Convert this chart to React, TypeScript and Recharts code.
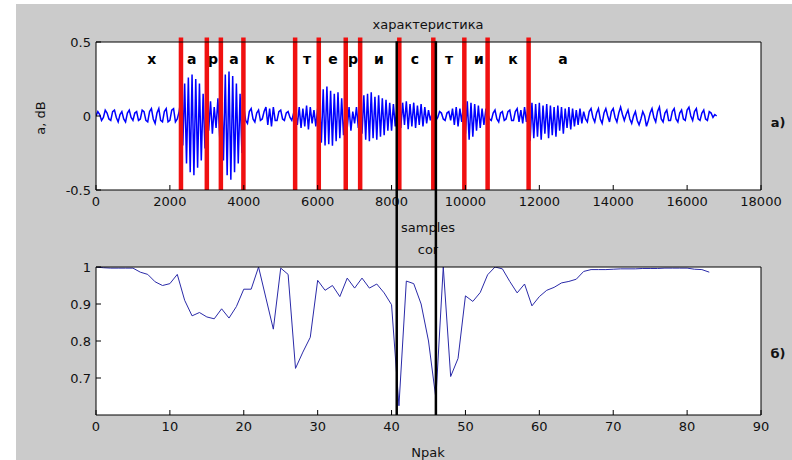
import React from 'react';
import {
  ComposedChart,
  LineChart,
  Line,
  Scatter,
  XAxis,
  YAxis,
  CartesianGrid,
  ReferenceLine,
} from 'recharts';

const W = 792;
const H = 460;
const STEP = 50; // samples between two points of the waveform

// waveform, one array per sound, values every STEP samples from its start
const segStarts = [0, 2300, 3000, 3400, 4000, 5400, 6050, 6750, 7150, 8200, 9150, 9950, 10600, 11700, 13200];
const segH = [0.0, 0.03, 0.01, -0.03, -0.01, 0.04, 0.02, -0.02, -0.03, 0.03, 0.04, -0.01, -0.04, 0.01, 0.03, -0.02, -0.04, 0.02, 0.04, -0.01, -0.03, 0.02, 0.03, -0.03, -0.02, 0.04, 0.03, -0.03, -0.04, 0.03, 0.05, -0.02, -0.05, 0.02, 0.05, -0.03, -0.04, 0.03, 0.05, -0.04, -0.03, 0.04, 0.05, -0.04, -0.02, 0.03];
const segA1 = [0.12, -0.2, 0.22, -0.32, 0.26, -0.38, 0.28, -0.4, 0.25, -0.35, 0.22, -0.3, 0.15, -0.22];
const segR1 = [0.08, -0.1, 0.1, -0.12, 0.06, -0.08, 0.12, -0.15];
const segA2 = [0.2, -0.3, 0.28, -0.4, 0.3, -0.43, 0.27, -0.38, 0.22, -0.32, 0.15, -0.25];
const segK1 = [0.06, -0.03, -0.05, 0.03, 0.05, -0.02, -0.04, 0.02, 0.04, -0.03, -0.02, 0.03, 0.06, -0.06, 0.05, -0.07, 0.06, -0.03, -0.03, 0.03, 0.04, -0.02, -0.03, 0.02, 0.03, -0.01, -0.03, 0.02];
const segT1 = [0.03, -0.06, 0.06, -0.08, 0.05, -0.07, 0.07, -0.09, 0.06, -0.05, 0.04, -0.07, 0.05];
const segE = [0.12, -0.18, 0.18, -0.2, 0.2, -0.19, 0.17, -0.2, 0.15, -0.17, 0.16, -0.15, 0.12, -0.13];
const segR2 = [0.04, -0.08, 0.06, -0.1, 0.03, -0.05, 0.06, -0.08];
const segI1 = [0.1, -0.12, 0.14, -0.16, 0.15, -0.17, 0.16, -0.15, 0.13, -0.16, 0.14, -0.14, 0.12, -0.13, 0.11, -0.1, 0.09, -0.1, 0.08, -0.07, 0.06];
const segS = [0.07, -0.08, 0.09, -0.06, 0.1, -0.09, 0.08, -0.07, 0.09, -0.08, 0.07, -0.06, 0.08, -0.07, 0.06, -0.05, 0.04, -0.03, 0.02];
const segT2 = [0.02, -0.03, -0.01, 0.03, 0.02, -0.02, -0.03, 0.02, 0.03, -0.03, 0.05, -0.06, 0.06, -0.07, 0.05, -0.04];
const segI2 = [0.08, -0.12, 0.1, -0.16, 0.09, -0.14, 0.08, -0.1, 0.07, -0.08, 0.05, -0.06, 0.04];
const segK2 = [0.02, -0.02, -0.03, 0.02, 0.04, -0.02, -0.04, 0.02, 0.03, -0.03, -0.02, 0.03, 0.04, -0.03, -0.03, 0.03, 0.05, -0.04, 0.04, -0.05, 0.06, -0.04];
const segA3 = [0.08, -0.17, 0.09, -0.15, 0.08, -0.14, 0.09, -0.16, 0.07, -0.12, 0.08, -0.15, 0.07, -0.13, 0.06, -0.14, 0.07, -0.1, 0.06, -0.12, 0.05, -0.08, 0.06, -0.09, 0.05, -0.07, 0.04, -0.06, 0.05, -0.05];
const segTail = [0.03, -0.02, -0.04, 0.03, 0.05, -0.01, -0.04, 0.02, 0.05, -0.02, -0.05, 0.02, 0.05, 0.0, -0.04, 0.03, 0.05, -0.01, -0.04, 0.02, 0.06, 0.01, -0.03, 0.01, 0.04, -0.02, -0.05, 0.0, 0.03, -0.03, -0.06, -0.02, 0.03, 0.0, -0.07, -0.03, 0.02, 0.05, -0.01, -0.04, 0.03, 0.06, -0.02, -0.04, 0.02, 0.04, -0.03, -0.03, 0.03, 0.05, -0.02, -0.04, 0.02, 0.04, -0.02, -0.03, 0.04, 0.06, 0.0, -0.03, 0.03, 0.05, -0.02, -0.03, 0.02, 0.04, -0.02, -0.03, 0.03, 0.02, -0.01, 0.01, 0.0];
const segments = [segH, segA1, segR1, segA2, segK1, segT1, segE, segR2, segI1, segS, segT2, segI2, segK2, segA3, segTail];

// red boundaries between sounds (samples)
const bounds = [2300, 3000, 3380, 3990, 5390, 6030, 6760, 7150, 8210, 9130, 9970, 10600, 11710];

// letter labels above the waveform
const letters = ['х', 'а', 'р', 'а', 'к', 'т', 'е', 'р', 'и', 'с', 'т', 'и', 'к', 'а'];
const letterPos = [1510, 2590, 3170, 3735, 4710, 5710, 6415, 6955, 7660, 8635, 9555, 10365, 11285, 12640];
const letterLevel = 0.385;

// correlation per packet
const corValues = [
  1.0, 0.998, 0.997, 0.997, 0.997, 0.997, 0.986, 0.98, 0.96, 0.95,
  0.955, 0.98, 0.91, 0.868, 0.877, 0.865, 0.86, 0.887, 0.862, 0.893,
  0.94, 0.94, 1.0, 0.916, 0.832, 0.997, 0.98, 0.726, 0.77, 0.81,
  0.964, 0.937, 0.95, 0.92, 0.97, 0.943, 0.97, 0.943, 0.954, 0.93,
  0.898, 0.625, 0.962, 0.955, 0.9, 0.8, 0.645, 1.0, 0.704, 0.753,
  0.922, 0.907, 0.931, 0.979, 1.0, 0.995, 0.961, 0.93, 0.954, 0.895,
  0.92, 0.937, 0.945, 0.957, 0.961, 0.967, 0.988, 0.993, 0.993, 0.993,
  0.994, 0.995, 0.995, 0.995, 0.996, 0.996, 0.996, 0.997, 0.997, 0.997,
  0.997, 0.994, 0.993, 0.986,
];
const cutPackets = [40.7, 46.0];
const cutTop = 1.61; // reaches the top of the upper plot

const sampleTicks = [0, 2000, 4000, 6000, 8000, 10000, 12000, 14000, 16000, 18000];
const ampTicks = [-0.5, 0, 0.5];
const packetTicks = [0, 10, 20, 30, 40, 50, 60, 70, 80, 90];
const corTicks = [0.7, 0.8, 0.9, 1];

const wave = segments.flatMap((seg, k) => seg.map((a, i) => ({ s: segStarts[k] + i * STEP, a })));
const letterData = letters.map((ch, i) => ({ s: letterPos[i], y: letterLevel, ch }));
const corData = corValues.map((c, i) => ({ n: i, c }));

const FONT = 'DejaVu Sans';
const tickStyle = { fill: '#111', fontSize: 13, fontFamily: FONT };

const LetterShape = (p: any) => (
  <text
    x={p.cx}
    y={p.cy}
    textAnchor="middle"
    dominantBaseline="central"
    fontFamily={FONT}
    fontWeight="bold"
    fontSize={14}
    fill="#000"
  >
    {p.payload.ch}
  </text>
);

const abs = (x: number, y: number, extra: React.CSSProperties = {}): React.CSSProperties => ({
  position: 'absolute',
  left: x,
  top: y,
  transform: 'translate(-50%, -50%)',
  fontFamily: FONT,
  fontSize: 13,
  color: '#111',
  whiteSpace: 'nowrap',
  ...extra,
});

export default function App() {
  return (
    <div style={{ position: 'absolute', left: 0, top: 0, width: W, height: H, background: '#fff', overflow: 'hidden' }}>
      <div style={{ position: 'absolute', left: 16, top: 4, right: 0, bottom: 0, background: '#cbcbcb' }} />

      <div style={abs(428, 24)}>характеристика</div>
      <div style={abs(428, 227)}>samples</div>
      <div style={abs(428, 249)}>cor</div>
      <div style={abs(428, 452)}>Npak</div>
      <div style={abs(40, 118, { transform: 'translate(-50%, -50%) rotate(-90deg)' })}>a, dB</div>
      <div style={abs(778, 122, { fontWeight: 'bold' })}>а)</div>
      <div style={abs(778, 353, { fontWeight: 'bold' })}>б)</div>

      <ComposedChart
        width={W}
        height={H}
        margin={{ top: 41, right: 30, bottom: 269, left: 95 }}
        style={{ position: 'absolute', left: 0, top: 0 }}
      >
        <CartesianGrid fill="#fff" horizontal={false} vertical={false} />
        <XAxis dataKey="s" type="number" domain={[0, 18000]} ticks={sampleTicks} interval={0}
          tickSize={-5} tickMargin={12} height={1} stroke="#000" tick={tickStyle} allowDataOverflow />
        <XAxis xAxisId="t" orientation="top" type="number" domain={[0, 18000]} ticks={sampleTicks}
          tickSize={-5} tick={false} height={1} stroke="#000" />
        <YAxis type="number" domain={[-0.5, 0.5]} ticks={ampTicks} interval={0}
          tickSize={-5} tickMargin={10} width={1} stroke="#000" tick={tickStyle} allowDataOverflow />
        <YAxis yAxisId="r" orientation="right" type="number" domain={[-0.5, 0.5]} ticks={ampTicks}
          tickSize={-5} tick={false} width={1} stroke="#000" />
        <Line data={wave} dataKey="a" type="linear" stroke="#0000ff" strokeWidth={1.5}
          dot={false} activeDot={false} isAnimationActive={false} />
        {bounds.map((s) => (
          <ReferenceLine key={s} segment={[{ x: s, y: -0.5 }, { x: s, y: 0.53 }]}
            stroke="#f01010" strokeWidth={4.5} ifOverflow="visible" />
        ))}
        <Scatter data={letterData} dataKey="y" shape={LetterShape} isAnimationActive={false} />
      </ComposedChart>

      <LineChart
        width={W}
        height={H}
        data={corData}
        margin={{ top: 266, right: 30, bottom: 44, left: 95 }}
        style={{ position: 'absolute', left: 0, top: 0 }}
      >
        <CartesianGrid fill="#fff" horizontal={false} vertical={false} />
        <XAxis dataKey="n" type="number" domain={[0, 90]} ticks={packetTicks} interval={0}
          tickSize={-5} tickMargin={12} height={1} stroke="#000" tick={tickStyle} />
        <XAxis xAxisId="t" orientation="top" type="number" domain={[0, 90]} ticks={packetTicks}
          tickSize={-5} tick={false} height={1} stroke="#000" />
        <YAxis type="number" domain={[0.6, 1]} ticks={corTicks} interval={0}
          tickSize={-5} tickMargin={10} width={1} stroke="#000" tick={tickStyle} allowDataOverflow />
        <YAxis yAxisId="r" orientation="right" type="number" domain={[0.6, 1]} ticks={corTicks}
          tickSize={-5} tick={false} width={1} stroke="#000" />
        <Line dataKey="c" type="linear" stroke="#2a2aa8" strokeWidth={1}
          dot={false} activeDot={false} isAnimationActive={false} />
        {cutPackets.map((n) => (
          <ReferenceLine key={n} segment={[{ x: n, y: 0.6 }, { x: n, y: cutTop }]}
            stroke="#000" strokeWidth={2.5} ifOverflow="visible" />
        ))}
      </LineChart>
    </div>
  );
}
